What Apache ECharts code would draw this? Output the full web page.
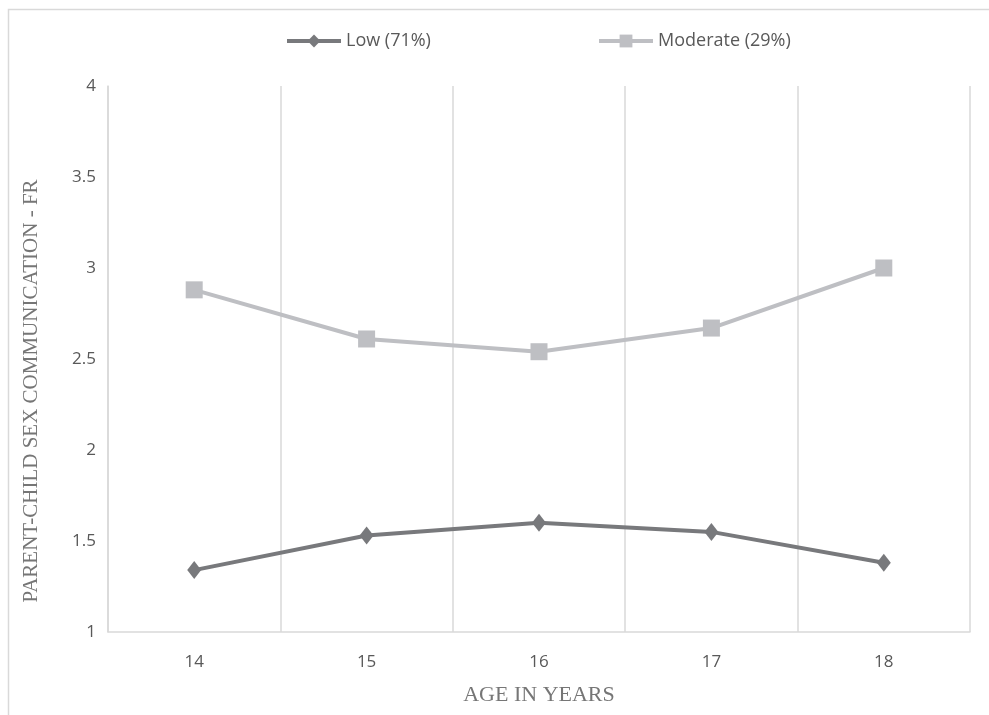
<!DOCTYPE html>
<html>
<head>
<meta charset="utf-8">
<script src="https://cdn.jsdelivr.net/npm/echarts@6/dist/echarts.min.js"></script>
<style>
  html, body { margin: 0; padding: 0; background: #ffffff; }
  #chart { width: 989px; height: 715px; }
</style>
</head>
<body>
<div id="chart"></div>
<script>
// Age categories (years)
const ages = ['14', '15', '16', '17', '18'];
// Mean parent-child sex communication score by class
const lowValues = [1.34, 1.53, 1.60, 1.55, 1.38];
const moderateValues = [2.88, 2.61, 2.54, 2.67, 3.00];
// Series names
const lowName = 'Low (71%)';
const moderateName = 'Moderate (29%)';
// Y axis range
const yMin = 1, yMax = 4, yStep = 0.5;

const gridColor = '#d9d9d9';
const labelColor = '#595959';
const lowColor = '#78797c';
const modColor = '#bebfc3';
const sansFont = '"Open Sans", "Noto Sans", sans-serif';
const serifFont = '"Liberation Serif", "DejaVu Serif", serif';

const chart = echarts.init(document.getElementById('chart'));

const legendText = { color: labelColor, fontSize: 18, fontFamily: sansFont };

chart.setOption({
  animation: false,
  backgroundColor: '#ffffff',
  graphic: [{
    type: 'rect',
    shape: { x: 8.5, y: 9.5, width: 1100, height: 1100 },
    style: { fill: 'none', stroke: gridColor, lineWidth: 1.5 },
    silent: true
  }],
  legend: [
    {
      data: [lowName], left: 285, top: 32, padding: 0,
      itemWidth: 54, itemHeight: 16, itemGap: 6,
      lineStyle: { width: 4 },
      textStyle: legendText
    },
    {
      data: [moderateName], left: 597, top: 32, padding: 0,
      itemWidth: 54, itemHeight: 16, itemGap: 6,
      lineStyle: { width: 4 },
      textStyle: legendText
    }
  ],
  grid: { left: 108, right: 19, top: 86, bottom: 83, containLabel: false },
  xAxis: {
    type: 'category',
    data: ages,
    boundaryGap: true,
    name: 'AGE IN YEARS',
    nameLocation: 'middle',
    nameGap: 52,
    nameTextStyle: { color: '#767676', fontSize: 22, fontFamily: serifFont },
    axisLine: { show: true, lineStyle: { color: gridColor, width: 1.5 } },
    axisTick: { show: false },
    axisLabel: { color: labelColor, fontSize: 17, fontFamily: sansFont, margin: 22 },
    splitLine: { show: true, interval: 0, lineStyle: { color: gridColor, width: 1.5 } }
  },
  yAxis: {
    type: 'value',
    min: yMin, max: yMax, interval: yStep,
    name: 'PARENT-CHILD SEX COMMUNICATION - FR',
    nameLocation: 'middle',
    nameGap: 66,
    nameTextStyle: {
      color: '#767676', fontSize: 21, fontFamily: serifFont,
      padding: [0, 64, 0, 0]
    },
    axisLine: { show: true, lineStyle: { color: gridColor, width: 1.5 } },
    axisTick: { show: false },
    axisLabel: { color: labelColor, fontSize: 17, fontFamily: sansFont, margin: 12 },
    splitLine: { show: false }
  },
  series: [
    {
      name: lowName,
      type: 'line',
      data: lowValues,
      color: lowColor,
      symbol: 'diamond',
      symbolSize: [14, 18],
      lineStyle: { color: lowColor, width: 4 },
      itemStyle: { color: lowColor }
    },
    {
      name: moderateName,
      type: 'line',
      data: moderateValues,
      color: modColor,
      symbol: 'rect',
      symbolSize: 17,
      lineStyle: { color: modColor, width: 4 },
      itemStyle: { color: modColor }
    }
  ]
});
</script>
</body>
</html>
